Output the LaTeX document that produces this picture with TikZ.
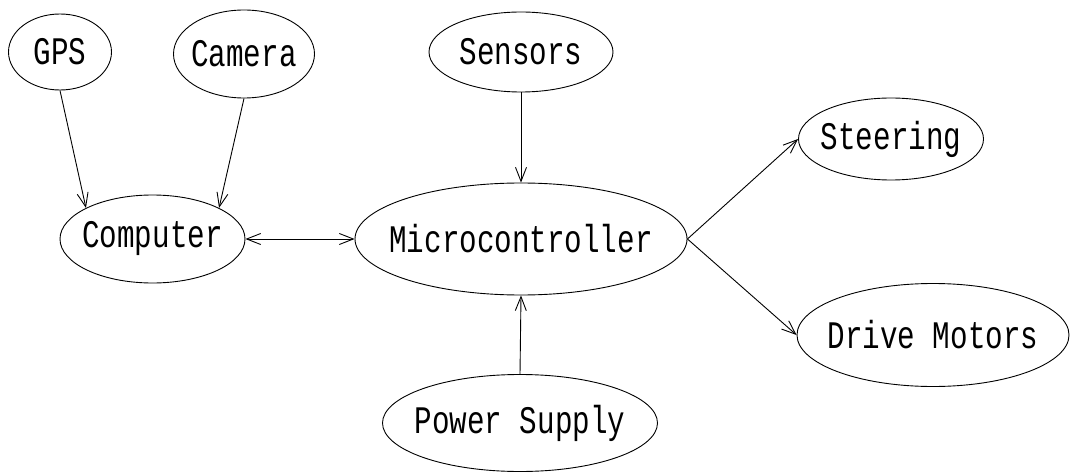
\documentclass[tikz,border=0pt]{standalone}
\usepackage{fontspec}
\newfontfamily\cadfont{Liberation Mono}[FakeStretch=0.75]
\usetikzlibrary{arrows.meta,shapes.geometric}

\begin{document}
\begin{tikzpicture}[x=1pt,y=-1pt,
  blob/.style={draw,ellipse,inner sep=0pt,line width=0.9pt,
    font=\cadfont\fontsize{39}{46}\selectfont},
  link/.style={line width=0.9pt,-{Straight Barb[length=14pt,width=11pt]}}]
\useasboundingbox (0,0) rectangle (1070,473);

\foreach \n/\x/\y/\w/\h/\t in {gps/60/52/103/76/GPS,
    camera/244/54/141/88/Camera, sensors/521/52/184/80/Sensors,
    computer/152.5/239/185/88/Computer, micro/521/239/332/112/Microcontroller,
    steering/891/139/185/82/Steering, drive/933/335/272/103/Drive Motors,
    power/520/423/275/97/Power Supply}
  \node[blob,minimum width=\w pt,minimum height=\h pt] (\n) at (\x,\y)
    {\makebox[0pt]{\t}};

\draw[link] (gps.south) -- (computer.155);
\draw[link] (camera.south) -- (computer.25);
\draw[link,{Straight Barb[length=14pt,width=11pt]}-{Straight Barb[length=14pt,width=11pt]}]
  (computer.east) -- (micro.west);
\draw[link] (sensors.south) -- (micro.north);
\draw[link] (power.north) -- (micro.south);
\draw[link] (micro.east) -- (steering.west);
\draw[link] (micro.east) -- (drive.west);

\end{tikzpicture}
\end{document}
